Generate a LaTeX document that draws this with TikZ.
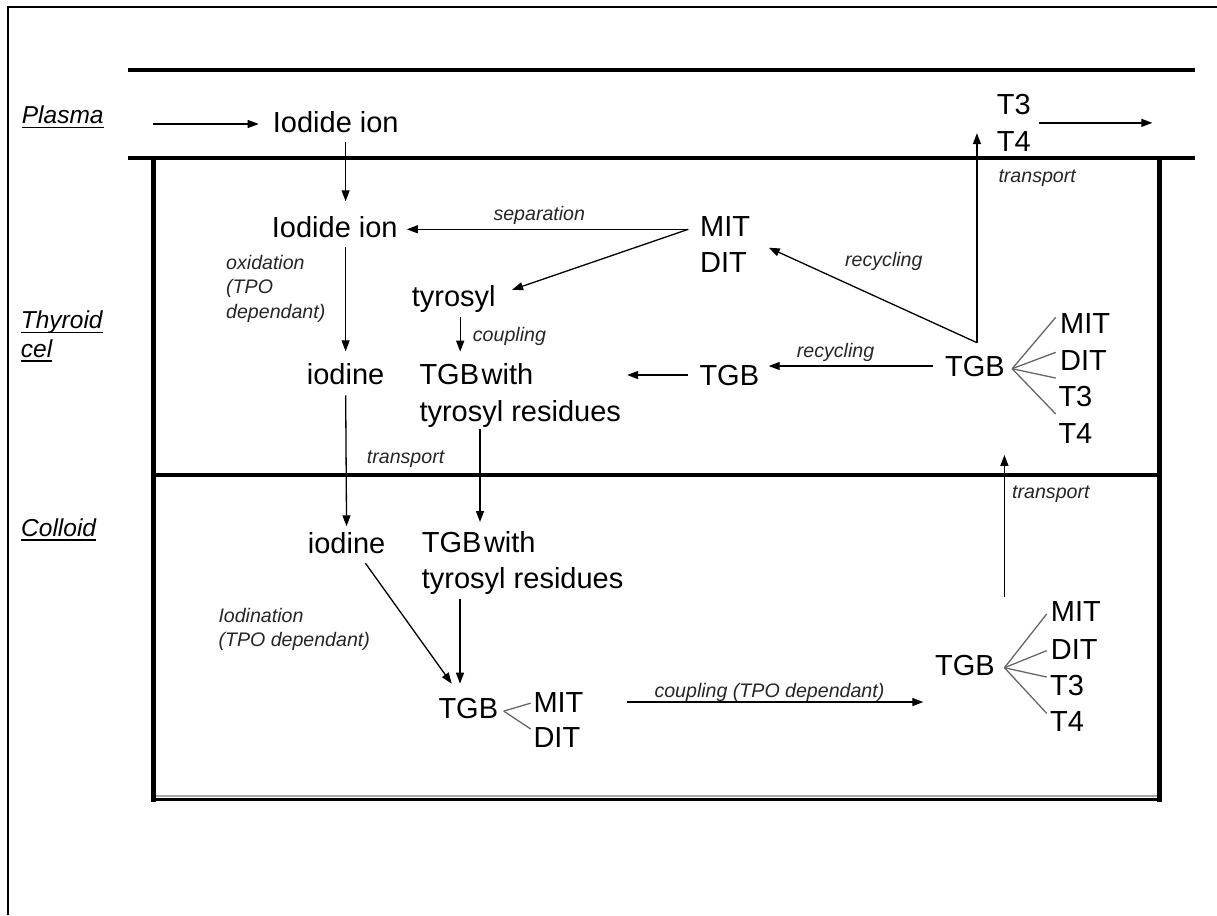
\documentclass[tikz,border=0pt]{standalone}
\usepackage{fontspec}
\setmainfont{Liberation Sans}
\usetikzlibrary{arrows.meta, calc}

\newsavebox{\regbox}
\newcommand{\regname}[1]{\sbox{\regbox}{#1}\rlap{\rule[-4.4pt]{\wd\regbox}{1.4pt}}\usebox{\regbox}}

\begin{document}
\begin{tikzpicture}[
        x=1pt, y=-1pt,
        txt/.style={
            inner sep=0pt,
            anchor=base west,
            align=left,
            font=\fontsize{29}{36.7}\selectfont
        },
        txtm/.style={
            txt,
            anchor=north west
        },
        lbl/.style={
            inner sep=0pt,
            anchor=base west,
            align=left,
            text=black!85,
            font=\itshape\fontsize{19.6}{24.5}\selectfont
        },
        lblm/.style={
            lbl,
            anchor=north west
        },
        region/.style={
            inner sep=0pt,
            anchor=north west,
            align=left,
            font=\itshape\fontsize{24.5}{28.4}\selectfont
        },
        arr/.style={
            draw,
            line width=1.3pt,
            -{Triangle[length=11pt, width=8pt]}
        },
        branch/.style={
            draw=black!60,
            line width=1.3pt
        },
        wall/.style={
            line width=4.5pt
        }
    ]
    \useasboundingbox (0,0) rectangle (1217,915);

    % Frame and walls
    \draw[line width=2pt] (7.5,915) -- (7.5,7) -- (1217,7);
    \draw[wall] (128,70) -- (1195,70);
    \draw[wall] (128,158) -- (1195,158);
    \draw[wall] (153.7,158) -- (153.7,801.5);
    \draw[wall] (1159.5,158) -- (1159.5,801.5);
    \draw[line width=3.5pt] (153.7,475) -- (1159.5,475);
    \draw[line width=2pt, black!35] (156,796) -- (1157,796);
    \draw[line width=3.5pt] (151.5,799.7) -- (1161.7,799.7);

    % Regions
    \node[region] (plasma) at (21.7,105.8) {\regname{Plasma}};
    \node[region] (thyroid) at (20.7,310.8) {\regname{Thyroid}\\\regname{cel}};
    \node[region] (colloid) at (21,518.5) {\regname{Colloid}};

    % Nodes
    \node[txt] (ion1) at (272.7,132.7) {Iodide ion};
    \node[txtm] (t3t4) at (996.7,94.2) {T3\\T4};
    \node[txt] (ion2) at (271.7,237.3) {Iodide ion};
    \node[txtm] (mitdit) at (700,215.9) {MIT\\DIT};
    \node[txt] (tyrosyl) at (411.7,306.7) {tyrosyl};
    \node[txt] (iodine1) at (306.7,384) {iodine};
    \node[txtm] (tgbres1) at (419.3,363.2) {TGB\hspace{2.5pt}with\\tyrosyl residues};
    \node[txt] (tgb2) at (699.3,385) {TGB};
    \node[txt] (tgb3) at (945,376) {TGB};
    \node[txt] (upmit) at (1060,333.3) {MIT};
    \node[txt] (updit) at (1060,370) {DIT};
    \node[txt] (upt3) at (1058.3,406.7) {T3};
    \node[txt] (upt4) at (1058.3,443.3) {T4};
    \node[txt] (iodine2) at (307.7,553) {iodine};
    \node[txtm] (tgbres2) at (421.7,530.9) {TGB\hspace{2.5pt}with\\tyrosyl residues};
    \node[txt] (tgb4) at (438.3,718.3) {TGB};
    \node[txt] (lomit) at (533.3,712) {MIT};
    \node[txt] (lodit) at (533.3,747) {DIT};
    \node[txt] (tgb5) at (935,675) {TGB};
    \node[txt] (remit) at (1050.7,621.7) {MIT};
    \node[txt] (redit) at (1050.7,659) {DIT};
    \node[txt] (ret3) at (1050,695) {T3};
    \node[txt] (ret4) at (1050,731.7) {T4};

    % Labels
    \node[lbl] (separation) at (493.3,220) {separation};
    \node[lblm] (oxidation) at (226,255) {oxidation\\(TPO\\dependant)};
    \node[lbl] (coupling1) at (472.7,341.7) {coupling};
    \node[lbl] (recycling1) at (845,266) {recycling};
    \node[lbl] (recycling2) at (796.7,357.7) {recycling};
    \node[lbl] (transport1) at (998.3,182.7) {transport};
    \node[lbl] (transport2) at (366.7,463) {transport};
    \node[lbl] (transport3) at (1012,498) {transport};
    \node[lblm] (iodination) at (218.3,607.7) {Iodination\\(TPO dependant)};
    \node[lbl] (coupling2) at (654.3,697) {coupling (TPO dependant)};

    % Helper points
    \coordinate (plasmain) at (153.3,124);
    \coordinate (plasmaout) at (1152.3,124.3);
    \coordinate (mdsrc) at ($(mitdit.north west)+(-11.7,13.4)$);
    \coordinate (tyrin) at ($(tyrosyl.east)+(16.2,-9.4)$);
    \coordinate (cplx) at ([xshift=6.4pt]tyrosyl.south);
    \coordinate (resx) at ($(tgbres1.south west)+(60.7,0)$);
    \coordinate (jct) at ($(tgb3.north)+(1.9,-12.9)$);
    \coordinate (mdin) at ($(mitdit.east)+(18.4,3.3)$);
    \coordinate (trsrc) at ($(tgb5.north east)+(9.4,-57.5)$);
    \coordinate (iosrc) at ($(iodine2.south east)+(-20.1,9.7)$);
    \coordinate (tgbin) at ($(tgb4.north west)+(13.4,-14.2)$);
    \coordinate (tgb4x) at ($(tgb4.north west)+(21.7,0)$);

    % Arrows
    \draw[arr, shorten >=14pt] (plasmain) -- (plasmain -| ion1.west);
    \draw[arr, shorten <=9pt, shorten >=14.8pt] (ion1.south -| iodine1) -- (ion2.north -| iodine1);
    \draw[arr, shorten <=9.4pt, shorten >=11.5pt] (ion2.south -| iodine1) -- (iodine1.north);
    \draw[arr, shorten <=11pt, shorten >=5.5pt] (iodine1.south) -- (iodine2.north);
    \draw[arr, shorten >=9pt] (mdsrc) -- (mdsrc -| ion2.east);
    \draw[arr] (mdsrc) -- (tyrin);
    \draw[arr, shorten <=3.9pt, shorten >=11.5pt] (cplx) -- (cplx |- tgbres1.north);
    \draw[arr, shorten <=2pt, shorten >=8.9pt] (resx) -- (resx |- tgbres2.north);
    \draw[arr, shorten <=11pt, shorten >=6pt] (tgb2.west) -- (tgb2.west -| tgbres1.east);
    \draw[arr, shorten <=11.7pt, shorten >=9.4pt] (tgb3.west) -- (tgb3.west -| tgb2.east);
    \draw[arr] (jct) -- (mdin);
    \draw[arr, shorten >=10.3pt] (jct) -- (jct |- t3t4.center);
    \draw[arr, shorten <=7.8pt] (t3t4.east) -- (t3t4.east -| plasmaout);
    \draw[arr, shorten >=11.6pt] (trsrc) -- (trsrc |- upt4.base);
    \draw[arr] (iosrc) -- (tgbin);
    \draw[arr, shorten <=3.9pt, shorten >=14.2pt] (tgb4x |- tgbres2.south) -- (tgb4x);
    \draw[arr, shorten <=43.5pt, shorten >=11.7pt] (lomit.east) -- (lomit.east -| tgb5.west);

    % Branches
    \coordinate (b4) at ($(tgb4.east)+(5.4,2.8)$);
    \draw[branch] (b4) -- ($(lomit.west)+(-2.6,1.1)$);
    \draw[branch] (b4) -- ($(lodit.north west)+(-2.6,2.1)$);
    \coordinate (b3) at ($(tgb3.east)+(7.1,2.7)$);
    \draw[branch] (b3) -- ($(upmit.north west)+(-4.3,4.2)$);
    \draw[branch] (b3) -- ($(updit.north west)+(-4.3,2.5)$);
    \draw[branch] (b3) -- ($(upt3.north west)+(-2.6,-8.2)$);
    \draw[branch] (b3) -- ($(upt4.north west)+(-2.6,-9.2)$);
    \coordinate (b5) at ($(tgb5.east)+(9.4,2.7)$);
    \draw[branch] (b5) -- ($(remit.north west)+(-4,12.4)$);
    \draw[branch] (b5) -- ($(redit.north west)+(-4,11.8)$);
    \draw[branch] (b5) -- ($(ret3.north west)+(-3.3,2.5)$);
    \draw[branch] (b5) -- ($(ret4.north west)+(-3.3,1.8)$);
\end{tikzpicture}
\end{document}
